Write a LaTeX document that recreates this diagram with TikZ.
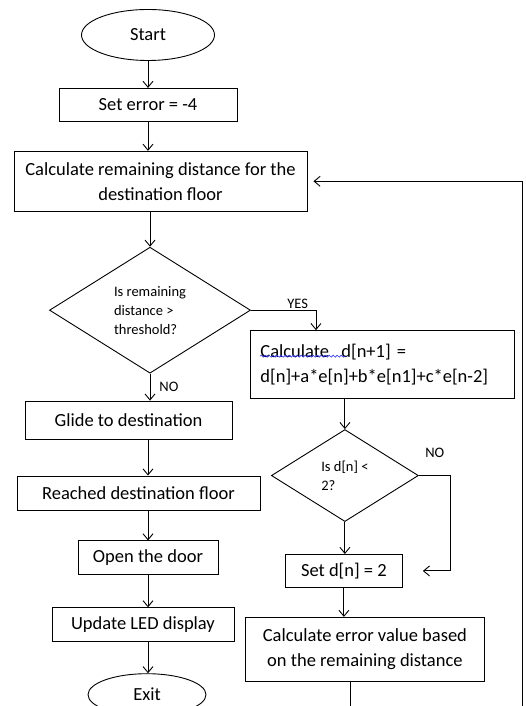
\documentclass[tikz,border=0pt]{standalone}
\usepackage{fontspec}
\setmainfont{Carlito}
\usetikzlibrary{positioning,shapes.geometric,arrows.meta,decorations.pathmorphing}
\tikzset{
  procbox/.style={rectangle,draw,line width=0.9pt,align=center,inner sep=4pt,
    minimum width=#1,font=\fontsize{18.5}{25}\selectfont},
  procbox/.default=120pt,
  termin/.style={ellipse,draw,line width=0.9pt,inner sep=0pt,
    font=\fontsize{18.5}{25}\selectfont},
  decision/.style={diamond,draw,line width=0.9pt,inner sep=0pt,align=left,
    font=\fontsize{14.5}{19}\selectfont},
  arrow/.style={-{Straight Barb[length=6pt,width=10pt]},line width=0.9pt},
  note/.style={font=\fontsize{14.5}{16}\selectfont,inner sep=1pt},
  squiggle/.style={draw=blue!80,line width=0.6pt,decorate,
    decoration={snake,amplitude=1pt,segment length=4pt}}
}
\begin{document}
\begin{tikzpicture}[x=1pt,y=1pt]
  \useasboundingbox (0,0) rectangle (525,706);
  \clip (0,0) rectangle (525,706);
  % left column
  \node[termin, minimum width=133pt, minimum height=51pt] (start) at (148,671) {Start};
  \node[procbox=178pt, minimum height=33pt, below=27pt of start] (seterr) {Set error = -4};
  \node[procbox=293pt, minimum height=60pt, below=29pt of seterr, xshift=12.5pt] (dist)
    {Calculate remaining distance for the\\destination floor};
  \node[decision, aspect=1.6, minimum width=201pt, minimum height=126pt,
    below=35pt of dist, xshift=-10.5pt] (thresh) {Is remaining\\distance >\\threshold?};
  \node[procbox=207pt, minimum height=38pt, below=27pt of thresh, xshift=-21.5pt] (glide)
    {Glide to destination};
  \node[procbox=243pt, minimum height=34pt, below=36pt of glide, xshift=10pt] (reached)
    {Reached destination floor};
  \node[procbox=140pt, minimum height=34pt, below=30pt of reached, xshift=9.5pt] (door)
    {Open the door};
  \node[procbox=182pt, minimum height=34pt, below=32pt of door, xshift=-5pt] (led)
    {Update LED display};
  \node[termin, minimum width=118pt, minimum height=42pt, below=31pt of led, xshift=4pt] (exit)
    {Exit};
  % right column
  \node[procbox=264pt, minimum height=68pt, text width=244pt, align=left,
    below right=20pt and -1pt of thresh.east] (calcd)
    {Calculate~~d[n+1] =\\d[n]+a*e[n]+b*e[n1]+c*e[n-2]};
  \node[decision, aspect=1.6, minimum width=147pt, minimum height=92pt,
    below=30pt of calcd, xshift=-37.5pt] (small) {Is d[n] <\\2?};
  \node[procbox=117pt, minimum height=33pt, below=32pt of small, xshift=-1pt] (setd)
    {Set d[n] = 2};
  \node[procbox=239pt, minimum height=64pt, below=29pt of setd, xshift=21pt] (err)
    {Calculate error value based\\on the remaining distance};
  \coordinate (back) at (522,-20);
  \draw[squiggle] ([xshift=10pt,yshift=-26pt]calcd.north west) -- ++(86,0);
  % connectors
  \draw[arrow] (start) -- (seterr);
  \draw[arrow] (seterr.south) -- (seterr.south |- dist.north);
  \draw[arrow] (dist.south -| thresh.north) -- (thresh.north);
  \draw[arrow] (thresh.south) -- node[note, right=8pt] {NO} (thresh.south |- glide.north);
  \draw[arrow] (thresh.east) -| node[note, above, pos=0.36] {YES} ([xshift=66pt]calcd.north west);
  \draw[arrow] (glide.south -| start) -- (reached.north -| start);
  \draw[arrow] (reached.south -| start) -- (door.north -| start);
  \draw[arrow] (door.south -| start) -- (led.north -| start);
  \draw[arrow] (led.south -| start) -- (exit.north -| start);
  \draw[arrow] (calcd.south -| small.north) -- (small.north);
  \draw[arrow, shorten >=20pt] (small.east) -- node[note, above=16pt] {NO} ++(32,0) |- (setd.east);
  \draw[arrow] (small.south) -- (small.south |- setd.north);
  \draw[arrow] (setd.south) -- (setd.south |- err.north);
  \draw[arrow, shorten >=6pt] ([xshift=-14.5pt]err.south) |- (back) |- (dist.east);
\end{tikzpicture}
\end{document}
